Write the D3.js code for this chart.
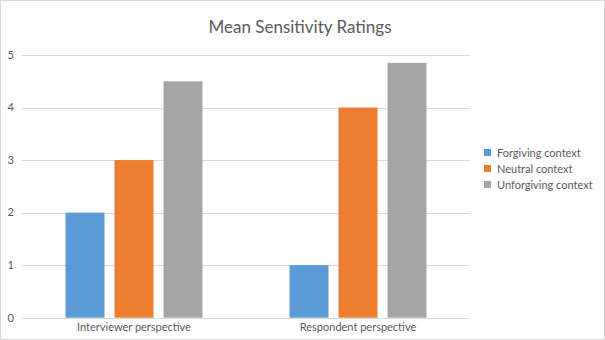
<!DOCTYPE html>
<html>
<head>
<meta charset="utf-8">
<script src="https://cdn.jsdelivr.net/npm/d3@7"></script>
<style>
  body { margin: 0; background: #fff; }
  svg { display: block; font-family: Lato, "Open Sans", sans-serif; }
</style>
</head>
<body>
<svg id="chart" width="605" height="340"></svg>
<script>
var categories = ["Interviewer perspective", "Respondent perspective"];
var seriesNames = ["Forgiving context", "Neutral context", "Unforgiving context"];
var forgiving = [2, 1];
var neutral = [3, 4];
var unforgiving = [4.5, 4.85];
var yTicks = [0, 1, 2, 3, 4, 5];
var colors = ["#5b9bd5", "#ed7d31", "#a5a5a5"];

var svg = d3.select("#chart");

// outer chart frame
svg.append("rect")
    .attr("x", 0.5).attr("y", 0.5)
    .attr("width", 604).attr("height", 339)
    .attr("fill", "#fff")
    .attr("stroke", "#d9d9d9");

var margin = {top: 55, right: 135, bottom: 22, left: 22},
    width = 470 - margin.left,
    height = 317.7 - margin.top;

var g = svg.append("g")
    .attr("transform", "translate(" + margin.left + "," + margin.top + ")");

var x0 = d3.scaleBand().domain(categories).range([0, width]).paddingInner(0).paddingOuter(0);
var y = d3.scaleLinear().domain([0, 5]).range([height, 0]);

var table = categories.map(function(c, i) {
  return {cat: c, values: [forgiving[i], neutral[i], unforgiving[i]]};
});

// gridlines
g.selectAll(".grid")
  .data(yTicks)
  .enter().append("line")
    .attr("x1", 0).attr("x2", width)
    .attr("y1", function(d) { return Math.round(y(d)) + 0.5; })
    .attr("y2", function(d) { return Math.round(y(d)) + 0.5; })
    .attr("stroke", "#d9d9d9")
    .attr("stroke-width", 1);

// y tick labels
g.selectAll(".ylab")
  .data(yTicks)
  .enter().append("text")
    .attr("x", -8)
    .attr("y", function(d) { return y(d); })
    .attr("dy", "0.35em")
    .attr("text-anchor", "end")
    .attr("font-size", 11)
    .attr("fill", "#595959")
    .text(function(d) { return d; });

// bars: width 39, gap 10 within each group
var barW = 39, gap = 10;
var groups = g.selectAll(".grp")
  .data(table)
  .enter().append("g")
    .attr("transform", function(d) {
      var cx = x0(d.cat) + x0.bandwidth() / 2;
      return "translate(" + (cx - (3 * barW + 2 * gap) / 2) + ",0)";
    });

groups.selectAll("rect")
  .data(function(d) { return d.values; })
  .enter().append("rect")
    .attr("x", function(d, i) { return i * (barW + gap); })
    .attr("y", function(d) { return y(d); })
    .attr("width", barW)
    .attr("height", function(d) { return height - y(d); })
    .attr("fill", function(d, i) { return colors[i]; });

// category labels
g.selectAll(".xlab")
  .data(categories)
  .enter().append("text")
    .attr("x", function(d) { return x0(d) + x0.bandwidth() / 2; })
    .attr("y", height + 13)
    .attr("text-anchor", "middle")
    .attr("font-size", 11)
    .attr("fill", "#595959")
    .text(function(d) { return d; });

// title
svg.append("text")
    .attr("x", 300)
    .attr("y", 33)
    .attr("text-anchor", "middle")
    .attr("font-size", 17)
    .attr("fill", "#595959")
    .text("Mean Sensitivity Ratings");

// legend
var legend = svg.append("g").attr("transform", "translate(484,149)");
var items = legend.selectAll(".item")
  .data(seriesNames)
  .enter().append("g")
    .attr("transform", function(d, i) { return "translate(0," + i * 16 + ")"; });
items.append("rect")
    .attr("width", 7).attr("height", 7)
    .attr("fill", function(d, i) { return colors[i]; });
items.append("text")
    .attr("x", 13)
    .attr("y", 4)
    .attr("dy", "0.35em")
    .attr("font-size", 11)
    .attr("fill", "#595959")
    .text(function(d) { return d; });
</script>
</body>
</html>
